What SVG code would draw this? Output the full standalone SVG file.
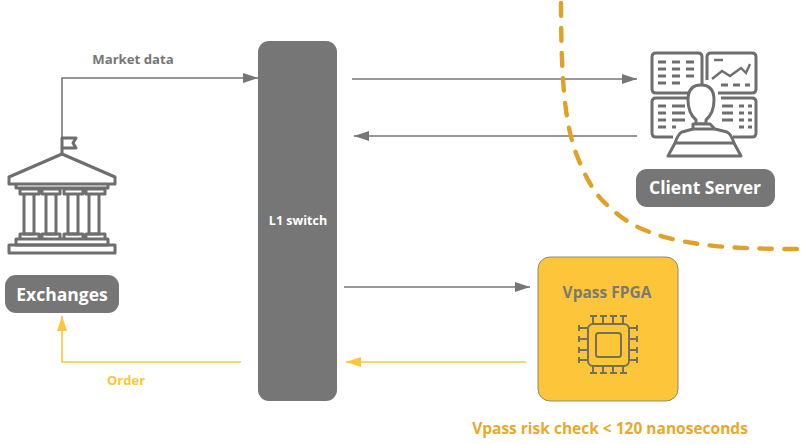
<svg xmlns="http://www.w3.org/2000/svg" width="811" height="444" viewBox="0 0 811 444">
<style>
text{font-family:"Open Sans","Noto Sans",sans-serif;font-weight:700}
.box{fill:#767676}
.lbl{fill:#fff;text-anchor:middle}
.ic{fill:none;stroke:#6e6e6e;stroke-width:3;stroke-linejoin:round}
.ict{fill:none;stroke:#6e6e6e;stroke-width:2.8}
.g{fill:none;stroke:#767676;stroke-width:1.6}
.y{fill:none;stroke:#fcc53a;stroke-width:1.6}
</style>
<defs>
<marker id="ag" markerUnits="userSpaceOnUse" markerWidth="16" markerHeight="12" refX="15" refY="6" orient="auto"><path d="M0 1L15 6L0 11Z" fill="#767676"/></marker>
<marker id="ay" markerUnits="userSpaceOnUse" markerWidth="16" markerHeight="12" refX="15" refY="6" orient="auto"><path d="M0 1L15 6L0 11Z" fill="#fcc53a"/></marker>
</defs>
<rect width="811" height="444" fill="#fff"/>
<g id="connectors">
<path class="g" d="M62 138V78H258" marker-end="url(#ag)"/>
<path class="g" d="M352 79H637" marker-end="url(#ag)"/>
<path class="g" d="M637 136H354" marker-end="url(#ag)"/>
<path class="g" d="M344 287H530" marker-end="url(#ag)"/>
<path class="y" d="M526 362H346" marker-end="url(#ay)"/>
<path class="y" d="M241 362H62V316" marker-end="url(#ay)"/>
<path id="boundary" d="M561 3C561 40 562 70 564 92C567 125 572 145 580 163C587 180 596 195 605 203C618 216 633 226 647 231C665 238 680 241 693 243C715 247 745 249 801 249" fill="none" stroke="#dfa126" stroke-width="4.4" stroke-dasharray="12.5 12.5" stroke-linecap="round"/>
</g>
<text x="133" y="64" font-size="13.2" fill="#767676" text-anchor="middle">Market data</text>
<text x="126" y="385" font-size="13" fill="#fcc53a" text-anchor="middle">Order</text>
<g id="exchanges">
<g class="ic">
<path d="M62 154V138H76L73 143L76 148H62" stroke-width="3"/>
<path d="M62 154L115 177V184H9V177Z"/>
<path d="M16 185V188H108V185"/>
<path d="M20 189H39V194H20ZM42 189H60V194H42ZM64 189H83V194H64ZM86 189H105V194H86Z"/>
<path d="M24 194V234H34V194M46 194V234H56V194M68 194V234H78V194M89 194V234H99V194"/>
<path d="M20 239V234H39V239M42 239V234H60V239M64 239V234H83V239M86 239V234H105V239"/>
<path d="M16 239H108V245H16Z"/>
<path d="M9 245H115V253H9Z"/>
</g>
<rect class="box" x="5" y="275" width="114" height="38" rx="11"/>
<text class="lbl" x="62" y="301" font-size="17.5">Exchanges</text>
</g>
<g id="l1-switch">
<rect class="box" x="258" y="41" width="79" height="360" rx="11"/>
<text class="lbl" x="298" y="225" font-size="12.5">L1 switch</text>
</g>
<g id="client-server">
<g class="ic">
<path d="M688 93H656Q652 93 652 89V57Q652 53 656 53H698Q702 53 702 57V86"/>
<path d="M707 80V57Q707 53 711 53H752Q756 53 756 57V89Q756 93 752 93H718"/>
<path d="M673 137H656Q652 137 652 133V102Q652 98 656 98H688"/>
<path d="M721 98H752Q756 98 756 102V133Q756 137 752 137H733"/>
</g>
<g class="ict">
<path d="M658 62H666M672 62H680M686 62H694M658 69H666M672 69H680M686 69H694M658 76H666M672 76H680M686 76H694M658 83H666M672 83H680"/>
<path d="M714 60H723M712 79L722 71L730 76L741 68L746 73L750 64" stroke-width="2.4"/>
<path d="M721 85H728M733 85H740M745 85H750"/>
<path d="M658 106H666M672 106H685M658 113H666M672 113H685M658 120H666M672 120H685M658 127H666M672 127H676"/>
<path d="M722 106H733M739 106H744M748 106H752M722 113H733M739 113H744M748 113H752M722 120H733M739 120H744M748 120H752M739 127H744M748 127H752"/>
</g>
<g class="ic" style="fill:#fff">
<path d="M701 85Q688 85 688 100Q688 113 696 120V124H706V120Q714 113 714 100Q714 85 701 85Z"/>
<path d="M693 124H710L715 129L727 132Q731 134 734 143L741 156H668L675 143Q678 134 682 132L693 129Z"/>
</g>
<path class="ic" d="M675 143H734M693 129H715"/>
<rect class="box" x="636" y="169" width="139" height="38" rx="11"/>
<text class="lbl" x="705" y="194" font-size="17.5">Client Server</text>
</g>
<g id="vpass-fpga">
<rect x="538" y="257" width="140" height="144" rx="12" fill="#fcc53a" stroke="#8f8a75" stroke-width="1"/>
<text x="607" y="298" font-size="15.5" fill="#7a7a6e" text-anchor="middle">Vpass FPGA</text>
<g fill="none" stroke="#75705c" stroke-width="2">
<rect x="588" y="324" width="41" height="42" rx="5"/>
<rect x="596" y="333" width="25" height="24" rx="2.5"/>
<path d="M593 324V316M603 324V316M613 324V316M623 324V316M590 316H597M600 316H607M610 316H617M620 316H627"/>
<path d="M593 366V373M603 366V373M613 366V373M623 366V373M590 373H597M600 373H607M610 373H617M620 373H627"/>
<path d="M588 328H579M588 339H579M588 350H579M588 360H579M579 325V331M579 336V342M579 347V353M579 357V363"/>
<path d="M629 328H637M629 339H637M629 350H637M629 360H637M637 325V331M637 336V342M637 347V353M637 357V363"/>
</g>
</g>
<text x="610" y="434" font-size="15.5" fill="#e9a92a" text-anchor="middle">Vpass risk check &lt; 120 nanoseconds</text>
</svg>
